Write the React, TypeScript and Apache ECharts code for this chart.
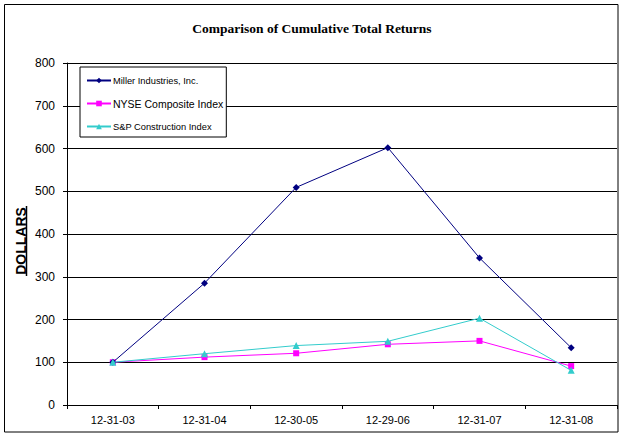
import React, { useEffect, useRef } from "react";
import * as echarts from "echarts";

const categories = ["12-31-03", "12-31-04", "12-30-05", "12-29-06", "12-31-07", "12-31-08"];
const millerValues = [100, 285, 509, 602, 344, 134];
const nyseValues = [100, 112, 121, 142, 150, 91];
const spValues = [100, 120, 139, 149, 203, 81];
const seriesNames = ["Miller Industries, Inc.", "NYSE Composite Index", "S&P Construction Index"];
const yTicks = { min: 0, max: 800, interval: 100 };

export default function App() {
  const ref = useRef<HTMLDivElement>(null);
  useEffect(() => {
    document.body.style.margin = "0";
    const chart = echarts.init(ref.current!, null, { renderer: "svg" });
    chart.setOption({
      animation: false,
      backgroundColor: "#fff",
      title: {
        text: "Comparison of Cumulative Total Returns",
        left: 307,
        top: 16,
        textAlign: "center",
        textStyle: { fontFamily: "Liberation Serif", fontWeight: "bold", fontSize: 13.5, color: "#000" },
      },
      legend: {
        orient: "vertical",
        left: 80,
        top: 67,
        padding: [9, 3, 6, 6],
        itemGap: 13,
        itemWidth: 24,
        itemHeight: 7,
        borderColor: "#000",
        borderWidth: 1,
        backgroundColor: "#fff",
        data: seriesNames,
        formatter: (name: string) =>
          name === "NYSE Composite Index" ? `{big|${name}}` : `{small|${name}}`,
        textStyle: {
          fontFamily: "Liberation Sans",
          color: "#000",
          padding: [0, 0, 0, -3],
          rich: {
            big: { fontSize: 10.5, fontFamily: "Liberation Sans", color: "#000", height: 12 },
            small: { fontSize: 9.3, fontFamily: "Liberation Sans", color: "#000", height: 12 },
          },
        },
      },
      grid: { left: 67, right: 8, top: 63, bottom: 33 },
      xAxis: {
        type: "category",
        data: categories,
        boundaryGap: true,
        axisLine: { show: true, lineStyle: { color: "#000", width: 1 } },
        axisTick: { show: true, length: 4, lineStyle: { color: "#000" } },
        axisLabel: { fontFamily: "Liberation Sans", fontSize: 11, color: "#000", margin: 9 },
        splitLine: { show: false },
      },
      yAxis: {
        type: "value",
        min: yTicks.min,
        max: yTicks.max,
        interval: yTicks.interval,
        axisLine: { show: true, lineStyle: { color: "#000", width: 1 } },
        axisTick: { show: true, length: 4, lineStyle: { color: "#000" } },
        axisLabel: { fontFamily: "Liberation Sans", fontSize: 12, color: "#000", margin: 12 },
        splitLine: { show: true, lineStyle: { color: "#000", width: 1 } },
      },
      series: [
        {
          name: seriesNames[0],
          type: "line",
          data: millerValues,
          symbol: "diamond",
          symbolSize: 7,
          itemStyle: { color: "#000080" },
          lineStyle: { color: "#000080", width: 1 },
          z: 3,
        },
        {
          name: seriesNames[1],
          type: "line",
          data: nyseValues,
          symbol: "rect",
          symbolSize: 6,
          itemStyle: { color: "#FF00FF" },
          lineStyle: { color: "#FF00FF", width: 1 },
          z: 2,
        },
        {
          name: seriesNames[2],
          type: "line",
          data: spValues,
          symbol: "triangle",
          symbolSize: 7,
          itemStyle: { color: "#33CCCC" },
          lineStyle: { color: "#33CCCC", width: 1 },
          z: 4,
        },
      ],
      graphic: [
        {
          type: "rect",
          shape: { x: 4.5, y: 4.5, width: 613.5, height: 427.5 },
          style: { fill: "none", stroke: "#000", lineWidth: 1 },
          silent: true,
          z: 100,
        },
        {
          type: "text",
          x: 21,
          y: 241,
          rotation: Math.PI / 2,
          style: {
            text: "DOLLARS",
            fontFamily: "Liberation Sans",
            fontWeight: "bold",
            fontSize: 14,
            fill: "#000",
            align: "center",
            verticalAlign: "middle",
          },
        },
        {
          type: "line",
          shape: { x1: 26.5, y1: 206, x2: 26.5, y2: 276 },
          style: { stroke: "#000", lineWidth: 1.5 },
        },
      ],
    });
    return () => chart.dispose();
  }, []);
  return <div ref={ref} style={{ width: 625, height: 438 }} />;
}
